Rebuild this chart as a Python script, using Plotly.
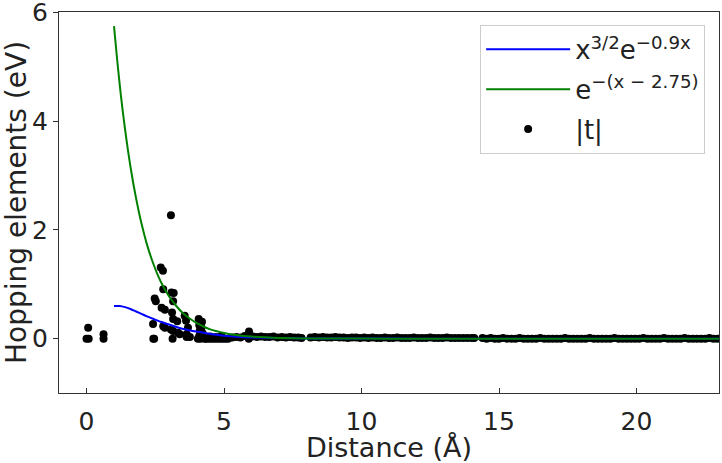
import plotly.graph_objects as go

# |t| points
pts_x = [0.0, 0.08, 0.06, 0.62, 0.62,
         2.42, 2.46, 2.48, 2.52, 2.43,
         2.70, 2.78, 2.79, 2.73, 2.85, 2.79, 2.85,
         3.07, 3.09, 3.17, 3.15, 3.11, 3.15, 3.30, 3.07, 3.15, 3.13, 3.33, 3.39,
         3.57, 3.64, 3.69, 3.64, 3.76, 3.62,
         4.08, 4.20, 4.10, 4.18, 4.12, 4.22, 4.10, 4.25, 4.05, 4.15, 4.30,
         4.35, 4.45, 4.55, 4.65, 4.75, 4.85, 4.95, 5.05, 5.15, 4.5, 4.7, 4.9, 5.9, 5.91]
pts_y = [0.0, 0.0, 0.2, 0.0, 0.08,
         0.27, 0.0, 0.74, 0.69, 0.0,
         1.31, 1.25, 0.91, 0.57, 0.53, 0.23, 0.20,
         2.27, 0.85, 0.84, 0.69, 0.48, 0.36, 0.32, 0.17, 0.14, 0.0, 0.11, 0.08,
         0.42, 0.08, 0.20, 0.03, 0.03, 0.33,
         0.36, 0.31, 0.25, 0.20, 0.15, 0.10, 0.05, 0.03, 0.0, 0.0, 0.0,
         0.0, 0.0, 0.0, 0.0, 0.0, 0.0, 0.0, 0.0, 0.0, 0.04, 0.03, 0.05, 0.0, 0.13]

band_a_x = [5.3, 5.45, 5.6, 5.75, 6.05, 6.2, 6.35, 6.5, 6.65, 6.8, 6.95, 7.1, 7.25, 7.4, 7.55, 7.7, 7.82]
band_a_y = [0.02, 0.03, 0.02, 0.05, 0.04, 0.03, 0.04, 0.03, 0.03, 0.04, 0.02, 0.03, 0.02, 0.03, 0.02, 0.02, 0.01]

band_b_x = [8.15, 8.3, 8.45, 8.6, 8.75, 8.9, 9.05, 9.2, 9.35, 9.5, 9.65, 9.8, 9.95, 10.1, 10.25, 10.4,
            10.55, 10.7, 10.85, 11.0, 11.15, 11.3, 11.45, 11.6, 11.75, 11.9, 12.05, 12.2, 12.35,
            12.5, 12.65, 12.8, 12.95, 13.1, 13.25, 13.4, 13.55, 13.7, 13.85, 14.0, 14.1]
band_b_y = [0.02, 0.03, 0.02, 0.03, 0.02, 0.02, 0.03, 0.02, 0.02, 0.01, 0.02, 0.02, 0.01, 0.02, 0.01, 0.02,
            0.01, 0.01, 0.02, 0.01, 0.01, 0.02, 0.01, 0.01, 0.01, 0.02, 0.01, 0.01, 0.01,
            0.02, 0.01, 0.01, 0.01, 0.02, 0.01, 0.01, 0.01, 0.01, 0.01, 0.01, 0.01]

band_c_x = [14.4, 14.55, 14.7, 14.85, 15.0, 15.15, 15.3, 15.45, 15.6, 15.75, 15.9, 16.05, 16.2, 16.35,
            16.5, 16.65, 16.8, 16.95, 17.1, 17.25, 17.4, 17.55, 17.7, 17.85, 18.0, 18.15, 18.3, 18.45,
            18.6, 18.75, 18.9, 19.05, 19.2, 19.35, 19.5, 19.65, 19.8, 19.95, 20.1, 20.25, 20.4, 20.55,
            20.7, 20.85, 21.0, 21.15, 21.3, 21.45, 21.6, 21.75, 21.9, 22.05, 22.2, 22.35, 22.5, 22.65,
            22.8, 22.95]
band_c_y = [0.01, 0.0, 0.01, 0.0, 0.0, 0.01, 0.0, 0.0, 0.0, 0.01, 0.0, 0.0, 0.0, 0.0,
            0.01, 0.0, 0.0, 0.0, 0.0, 0.0, 0.01, 0.0, 0.0, 0.0, 0.0, 0.0, 0.01, 0.0,
            0.0, 0.0, 0.0, 0.0, 0.01, 0.0, 0.0, 0.0, 0.0, 0.0, 0.0, 0.01, 0.0, 0.0,
            0.0, 0.0, 0.01, 0.0, 0.0, 0.0, 0.0, 0.01, 0.0, 0.0, 0.0, 0.0, 0.0, 0.01,
            0.0, 0.0]

# blue curve read values
blue_x = [1.0, 1.2, 1.4, 1.6, 1.8, 2.0, 2.2, 2.4, 2.7, 3.0, 3.3, 3.6, 4.0, 4.5, 5.0, 5.5, 6.0, 7.0, 8.0, 10.0, 12.0, 15.0, 18.0, 21.0, 23.0]
blue_y = [0.60, 0.60, 0.58, 0.545, 0.50, 0.455, 0.41, 0.37, 0.31, 0.26, 0.21, 0.17, 0.13, 0.085, 0.055, 0.035, 0.022, 0.010, 0.004, 0.001, 0.0, 0.0, 0.0, 0.0, 0.0]

# green curve read values
green_x = [1.0, 1.1, 1.2, 1.3, 1.4, 1.5, 1.6, 1.7, 1.8, 1.9, 2.0, 2.2, 2.4, 2.6, 2.8, 3.0, 3.25, 3.5, 3.75,
           4.0, 4.5, 5.0, 5.5, 6.0, 6.5, 7.0, 8.0, 9.0, 10.0, 12.0, 15.0, 18.0, 21.0, 23.0]
green_y = [5.75, 5.21, 4.71, 4.26, 3.86, 3.49, 3.16, 2.86, 2.59, 2.34, 2.12, 1.73, 1.42, 1.16, 0.95, 0.78,
           0.61, 0.47, 0.37, 0.29, 0.17, 0.105, 0.064, 0.039, 0.024, 0.014, 0.005, 0.002, 0.0007,
           0.0, 0.0, 0.0, 0.0, 0.0]

x_ticks = [0, 5, 10, 15, 20]
y_ticks = [0, 2, 4, 6]

all_x = pts_x + band_a_x + band_b_x + band_c_x
all_y = pts_y + band_a_y + band_b_y + band_c_y

font = "DejaVu Sans"
fig = go.Figure()
fig.add_trace(go.Scatter(x=all_x, y=all_y, mode="markers", name="|t|",
                         marker=dict(color="black", size=8, line=dict(width=0)),
                         legendgroup="c", legendrank=3))
fig.add_trace(go.Scatter(x=blue_x, y=blue_y, mode="lines", name="x<sup>3/2</sup>e<sup>\u22120.9x</sup>",
                         line=dict(color="#0000ff", width=2, shape="spline", smoothing=0.6),
                         legendgroup="a", legendrank=1))
fig.add_trace(go.Scatter(x=green_x, y=green_y, mode="lines", name="e<sup>\u2212(x \u2212 2.75)</sup>",
                         line=dict(color="#008000", width=2, shape="spline", smoothing=0.6),
                         legendgroup="b", legendrank=2))

axis_common = dict(showline=True, mirror=True, linecolor="#333333", linewidth=1.3,
                   showgrid=False, zeroline=False, tickcolor="#333333",
                   ticklabeloverflow="allow",
                   tickfont=dict(family=font, size=25, color="#222222"))

fig.update_xaxes(range=[-1, 23], tickvals=x_ticks, ticks="inside", ticklen=5,
                 title=dict(text="Distance (Å)", font=dict(family=font, size=27, color="#222222"), standoff=4),
                 ticklabelstandoff=6, **axis_common)
fig.update_yaxes(range=[-1, 6.01], tickvals=y_ticks, ticks="outside", ticklen=5,
                 title=dict(text="Hopping elements (eV)", font=dict(family=font, size=28, color="#222222"), standoff=3),
                 **axis_common)

fig.update_layout(
    width=722, height=463,
    margin=dict(l=59, r=3, t=12, b=70, autoexpand=False),
    paper_bgcolor="white", plot_bgcolor="white",
    showlegend=True,
    legend=dict(x=0.979, y=0.966, xanchor="right", yanchor="top",
                bgcolor="rgba(255,255,255,0.9)", bordercolor="#cccccc", borderwidth=1,
                font=dict(family=font, size=26, color="#222222"),
                traceorder="grouped", tracegroupgap=3, itemwidth=84),
)

fig.write_html("out.html", config={"displayModeBar": False},
               post_script="document.body.style.margin='0';document.body.style.overflow='hidden';")
